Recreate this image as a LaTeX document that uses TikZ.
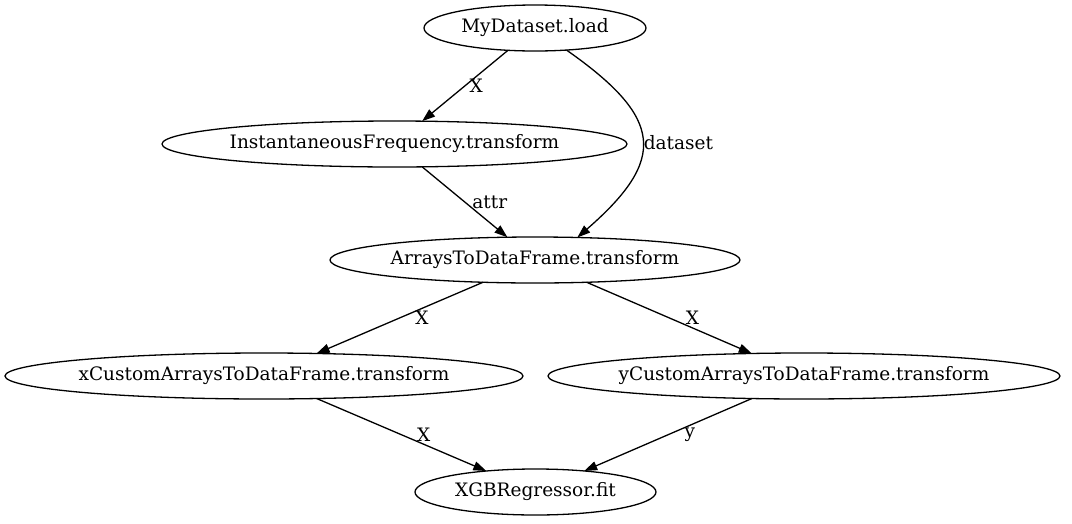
\documentclass[tikz,border=0pt]{standalone}
\usepackage{fontspec}
\setmainfont{DejaVu Serif}
\usetikzlibrary{arrows.meta, shapes.geometric, positioning, calc}

\begin{document}
\begin{tikzpicture}[
    x=1pt, y=1pt,
    node distance=70pt and 25pt,
    box/.style={ellipse, draw, line width=1.3pt, outer sep=0pt, inner sep=0pt, inner xsep=-6pt, minimum height=46pt, font=\fontsize{18.5}{20}\selectfont},
    arrow/.style={-{Triangle[length=13pt, width=9pt]}, line width=1.3pt},
    label/.style={font=\fontsize{18.5}{20}\selectfont, inner sep=0pt}
]

% page frame
\useasboundingbox (-535,28) rectangle (537,-495);

\node[box, minimum width=222pt] (load) at (0,0) {MyDataset.load};
\node[box, minimum width=465pt, below=of load, xshift=-140.5pt] (freq) {InstantaneousFrequency.transform};
\node[box, minimum width=410pt, below=of freq, xshift=140.5pt] (arrays) {ArraysToDataFrame.transform};
\node[box, minimum width=518pt, below=of arrays, xshift=-271pt] (xcustom) {xCustomArraysToDataFrame.transform};
\node[box, minimum width=512pt, right=of xcustom] (ycustom) {yCustomArraysToDataFrame.transform};
\node[box, minimum width=241pt, below=of xcustom, xshift=271.5pt] (xgb) {XGBRegressor.fit};

\draw[arrow] (load) -- node[label, midway, right=4pt] {X} (freq);
\draw[arrow] (load.-35) .. controls +(-35:119) and +(41:119) .. node[label, pos=0.5, right=1pt, yshift=-3pt] {dataset} (arrays.28);
\draw[arrow] (freq) -- node[label, midway, right=7pt] {attr} (arrays);
\draw[arrow] (arrays) -- node[label, midway, right=15pt] {X} (xcustom);
\draw[arrow] (arrays) -- node[label, midway, right=16pt] {X} (ycustom);
\draw[arrow] (xcustom) -- node[label, midway, right=15pt] {X} (xgb);
\draw[arrow] (ycustom) -- node[label, midway, right=16pt] {y} (xgb);

\end{tikzpicture}
\end{document}
